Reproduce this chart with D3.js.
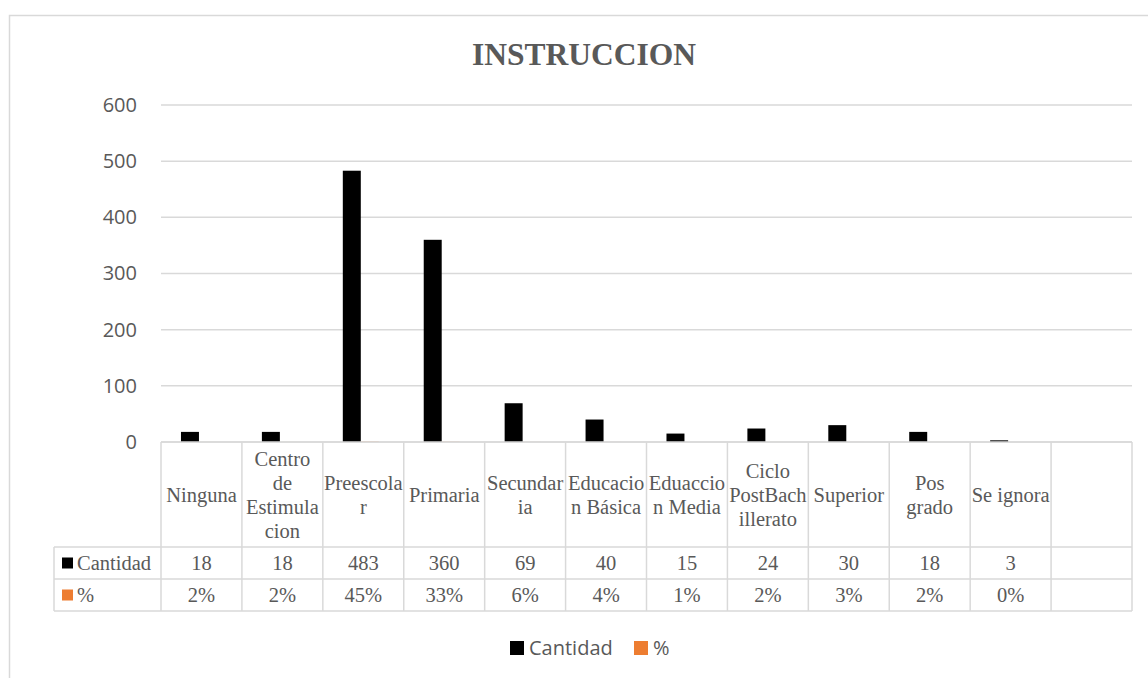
<!DOCTYPE html>
<html>
<head>
<meta charset="utf-8">
<script src="https://cdn.jsdelivr.net/npm/d3@7"></script>
<style>
  html, body { margin: 0; padding: 0; background: #fff; }
  svg { display: block; }
</style>
</head>
<body>
<svg id="chart" width="1148" height="678"></svg>
<script>
// ---- data ----
const categories = ["Ninguna", "Centro de Estimulacion", "Preescolar", "Primaria", "Secundaria",
  "Educacion Básica", "Eduaccion Media", "Ciclo PostBachillerato", "Superior", "Pos grado", "Se ignora", ""];
const categoryLines = [["Ninguna"], ["Centro", "de", "Estimula", "cion"], ["Preescola", "r"], ["Primaria"],
  ["Secundar", "ia"], ["Educacio", "n Básica"], ["Eduaccio", "n Media"], ["Ciclo", "PostBach", "illerato"],
  ["Superior"], ["Pos", "grado"], ["Se ignora"], []];
const cantidad = [18, 18, 483, 360, 69, 40, 15, 24, 30, 18, 3, null];
const porcentaje = [0.02, 0.02, 0.45, 0.33, 0.06, 0.04, 0.01, 0.02, 0.03, 0.02, 0.00, null];
const seriesNames = ["Cantidad", "%"];
const seriesColors = ["#000000", "#ED7D31"];
const yTicks = [0, 100, 200, 300, 400, 500, 600];
const title = "INSTRUCCION";

// ---- layout ----
const svg = d3.select("#chart");
const plotLeft = 161, plotRight = 1132, plotTop = 105, plotBottom = 442;
const tableLeft = 54;
const rowHeader = [442, 547], rowCant = [547, 579], rowPct = [579, 611];
const gray = "#595959", line = "#d9d9d9";
const serif = "'Liberation Serif', 'Times New Roman', serif";
const sans = "'Open Sans', 'Liberation Sans', sans-serif";

// outer chart border
svg.append("rect").attr("x", 9.5).attr("y", 15.5).attr("width", 1300).attr("height", 800)
  .attr("fill", "none").attr("stroke", line).attr("stroke-width", 1.5);

// title
svg.append("text").attr("x", 584).attr("y", 65).attr("text-anchor", "middle")
  .attr("font-family", serif).attr("font-weight", "bold").attr("font-size", 31.5)
  .attr("fill", gray).text(title);

const x = d3.scaleBand().domain(d3.range(categories.length)).range([plotLeft, plotRight]).padding(0);
const xs = d3.scaleBand().domain(seriesNames).range([0, x.bandwidth()]).paddingInner(0).paddingOuter(1.25);
const y = d3.scaleLinear().domain([0, 600]).range([plotBottom, plotTop]);

// gridlines
svg.append("g").selectAll("line").data(yTicks).join("line")
  .attr("x1", plotLeft).attr("x2", plotRight)
  .attr("y1", d => y(d)).attr("y2", d => y(d))
  .attr("stroke", line).attr("stroke-width", 1.5);

// y axis labels
const yAxis = d3.axisLeft(y).tickValues(yTicks).tickSize(0).tickPadding(0);
const yg = svg.append("g").attr("transform", `translate(137,0)`).call(yAxis);
yg.select(".domain").remove();
yg.selectAll("text").attr("font-family", sans).attr("font-size", 20).attr("fill", gray);

// bars
const barData = [];
categories.forEach((c, i) => {
  if (cantidad[i] != null) barData.push({ i, s: "Cantidad", v: cantidad[i] * 1, scaled: cantidad[i] });
  if (porcentaje[i] != null) barData.push({ i, s: "%", v: porcentaje[i], scaled: porcentaje[i] });
});
svg.append("g").selectAll("rect").data(barData).join("rect")
  .attr("x", d => x(d.i) + xs(d.s) - 2.5)
  .attr("width", xs.bandwidth())
  .attr("y", d => y(d.scaled))
  .attr("height", d => y(0) - y(d.scaled))
  .attr("fill", d => seriesColors[seriesNames.indexOf(d.s)]);

// data table
const tg = svg.append("g");
// horizontal lines
[[rowHeader[0], plotLeft], [rowCant[0], tableLeft], [rowPct[0], tableLeft], [rowPct[1], tableLeft]].forEach(([yy, x0]) => {
  tg.append("line").attr("x1", x0).attr("x2", plotRight).attr("y1", yy).attr("y2", yy)
    .attr("stroke", line).attr("stroke-width", 1.5);
});
// vertical lines
const bounds = d3.range(categories.length + 1).map(i => plotLeft + i * x.step());
tg.selectAll("line.v").data(bounds).join("line").attr("class", "v")
  .attr("x1", d => d).attr("x2", d => d).attr("y1", rowHeader[0]).attr("y2", rowPct[1])
  .attr("stroke", line).attr("stroke-width", 1.5);
tg.append("line").attr("x1", tableLeft).attr("x2", tableLeft).attr("y1", rowCant[0]).attr("y2", rowPct[1])
  .attr("stroke", line).attr("stroke-width", 1.5);

// category labels
const lh = 24;
categories.forEach((c, i) => {
  const lines = categoryLines[i];
  const cx = x(i) + x.bandwidth() / 2;
  const cy = (rowHeader[0] + rowHeader[1]) / 2;
  const t = tg.append("text").attr("text-anchor", "middle").attr("font-family", serif)
    .attr("font-size", 20.5).attr("fill", gray);
  lines.forEach((l, k) => {
    t.append("tspan").attr("x", cx).attr("y", cy + (k - (lines.length - 1) / 2) * lh)
      .attr("dy", "0.35em").text(l);
  });
});
// values
const fmtPct = d3.format(".0%");
categories.forEach((c, i) => {
  const cx = x(i) + x.bandwidth() / 2;
  if (cantidad[i] != null)
    tg.append("text").attr("x", cx).attr("y", (rowCant[0] + rowCant[1]) / 2).attr("dy", "0.35em")
      .attr("text-anchor", "middle").attr("font-family", serif).attr("font-size", 20.5).attr("fill", gray)
      .text(cantidad[i]);
  if (porcentaje[i] != null)
    tg.append("text").attr("x", cx).attr("y", (rowPct[0] + rowPct[1]) / 2).attr("dy", "0.35em")
      .attr("text-anchor", "middle").attr("font-family", serif).attr("font-size", 20.5).attr("fill", gray)
      .text(fmtPct(porcentaje[i]));
});
// row labels with legend keys
[[rowCant, 0], [rowPct, 1]].forEach(([r, k]) => {
  const cy = (r[0] + r[1]) / 2;
  tg.append("rect").attr("x", 62).attr("y", cy - 5.5).attr("width", 11).attr("height", 11)
    .attr("fill", seriesColors[k]);
  tg.append("text").attr("x", 77).attr("y", cy).attr("dy", "0.35em").attr("font-family", serif)
    .attr("font-size", 20.5).attr("fill", gray).text(seriesNames[k]);
});

// legend
const lg = svg.append("g");
const legendX = [510, 634];
seriesNames.forEach((s, k) => {
  lg.append("rect").attr("x", legendX[k]).attr("y", 641).attr("width", 14).attr("height", 14)
    .attr("fill", seriesColors[k]);
  lg.append("text").attr("x", legendX[k] + 19).attr("y", 648).attr("dy", "0.35em")
    .attr("font-family", sans).attr("font-size", 20).attr("fill", gray).text(s);
});
</script>
</body>
</html>
